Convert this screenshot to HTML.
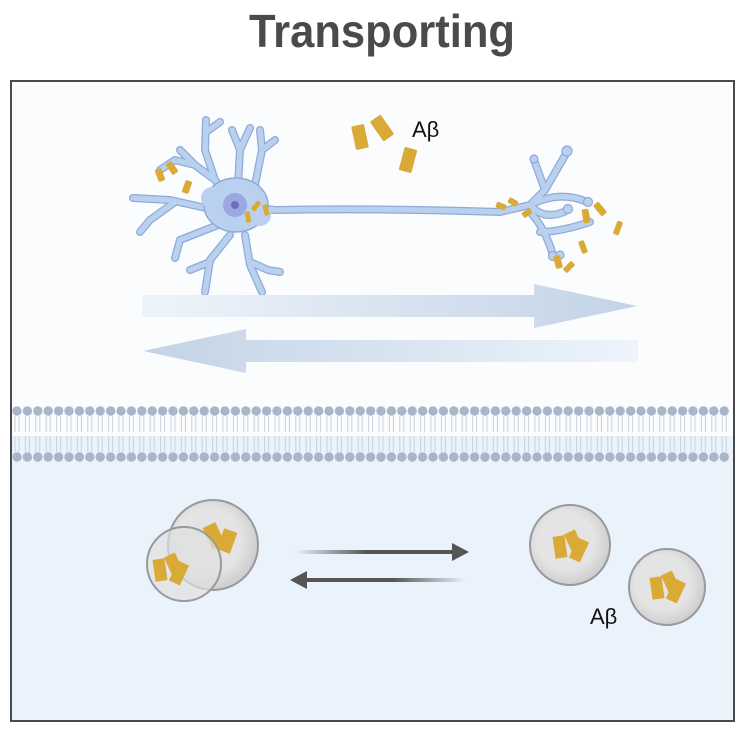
<!DOCTYPE html>
<html><head><meta charset="utf-8">
<style>
html,body{margin:0;padding:0;background:#fff;}
svg{display:block;}
</style></head>
<body>
<svg id="fig" width="749" height="734" viewBox="0 0 749 734" xmlns="http://www.w3.org/2000/svg">
<defs>
<linearGradient id="arrR" x1="0" x2="1" y1="0" y2="0">
<stop offset="0" stop-color="#eef4fb"/><stop offset="1" stop-color="#c3d3e6"/></linearGradient>
<linearGradient id="arrL" x1="0" x2="1" y1="0" y2="0">
<stop offset="0" stop-color="#c3d3e6"/><stop offset="1" stop-color="#eef4fb"/></linearGradient>
<linearGradient id="gR" x1="0" x2="1" y1="0" y2="0"><stop offset="0" stop-color="#555" stop-opacity="0"/><stop offset="0.45" stop-color="#555"/><stop offset="1" stop-color="#555"/></linearGradient>
<linearGradient id="gL" x1="0" x2="1" y1="0" y2="0"><stop offset="0" stop-color="#555"/><stop offset="0.55" stop-color="#555"/><stop offset="1" stop-color="#555" stop-opacity="0"/></linearGradient>
<radialGradient id="ves" cx="0.45" cy="0.45" r="0.6"><stop offset="0.6" stop-color="#e4e4e4"/><stop offset="1" stop-color="#c8c8c8"/></radialGradient>
</defs>
<text x="382" y="47" text-anchor="middle" font-family="Liberation Sans, sans-serif" font-weight="bold" font-size="46" fill="#4a4a4a" textLength="266" lengthAdjust="spacingAndGlyphs">Transporting</text>

<rect x="11" y="81" width="723" height="380" fill="#fbfcfe"/>
<rect x="11" y="436" width="723" height="285" fill="#eaf2fb"/>
<g id="membrane"></g>
<rect x="11" y="81" width="723" height="640" fill="none" stroke="#4a4a4a" stroke-width="2"/>

<!-- neuron -->
<g stroke-linecap="round" stroke-linejoin="round" fill="none">
<g stroke="#8faad8" stroke-width="8">
<path id="dend" d="M235 205 L215 180 L195 165 L175 160 L160 170 M195 165 L180 150 M215 180 L205 150 L206 120 M206 132 L220 122 M238 185 L240 150 L250 128 M240 150 L232 130 M255 185 L262 150 L260 130 M262 150 L275 140 M215 210 L170 200 L133 198 M175 202 L150 220 L140 232 M218 225 L180 240 L175 258 M230 235 L210 260 L205 292 M210 262 L190 270 M245 235 L250 265 L262 292 M250 262 L268 270 L280 272 M235 205 L275 210 Q380 208 500 212 L530 205 L545 190 L567 152 M545 190 L534 160 M530 205 Q560 190 587 202 M530 205 Q545 222 568 210 M530 212 Q545 228 553 255 M540 232 Q560 232 590 222"/>
</g>
<use href="#dend" stroke="#b9d1ee" stroke-width="5.5"/>
<ellipse cx="236" cy="205" rx="32" ry="27" fill="#b9d1ee" stroke="#8faad8" stroke-width="1.5"/>
<path d="M212 198 L260 215" stroke="#b9d1ee" stroke-width="22" fill="none"/>
<circle cx="235" cy="205" r="12" fill="#9da8e0"/>
<circle cx="235" cy="205" r="4" fill="#6f6cc3"/>
<g fill="#b9d1ee" stroke="#8faad8" stroke-width="1.2">
<circle cx="567" cy="151" r="5"/><circle cx="534" cy="159" r="4"/><circle cx="588" cy="202" r="4.5"/><circle cx="568" cy="209" r="4.5"/><circle cx="553" cy="256" r="4.5"/><circle cx="560" cy="255" r="4"/>
</g>
</g>

<!-- arrows -->
<polygon points="142,295 534,295 534,284 637,306 534,328 534,317 142,317" fill="url(#arrR)"/>
<polygon points="638,340 246,340 246,329 143,351 246,373 246,362 638,362" fill="url(#arrL)"/>

<g id="amyloids"></g>
<text x="412" y="137" font-family="Liberation Sans, sans-serif" font-size="22" fill="#111">Aβ</text>

<!-- vesicles -->
<g id="vesicles">
<circle cx="213" cy="545" r="45" fill="url(#ves)" stroke="#999" stroke-width="2"/>
<g fill="#d9aa35"><rect x="207" y="524" width="14" height="24" transform="rotate(-25 214 536)"/><rect x="220" y="530" width="14" height="22" transform="rotate(20 227 541)"/></g>
<circle cx="184" cy="564" r="37" fill="#e0e0e0" fill-opacity="0.7" stroke="#999" stroke-width="2"/>
<circle cx="570" cy="545" r="40" fill="url(#ves)" stroke="#999" stroke-width="2"/>
<circle cx="667" cy="587" r="38" fill="url(#ves)" stroke="#999" stroke-width="2"/>
</g>
<g id="vamy" fill="#d9aa35"></g>

<rect x="295" y="550" width="160" height="4" fill="url(#gR)"/>
<polygon points="452,543 469,552 452,561" fill="#555"/>
<rect x="305" y="578" width="160" height="4" fill="url(#gL)"/>
<polygon points="307,571 290,580 307,589" fill="#555"/>
<text x="590" y="624" font-family="Liberation Sans, sans-serif" font-size="22" fill="#111">Aβ</text>
</svg>
<script>
var NS='http://www.w3.org/2000/svg';
var mem=document.getElementById('membrane');
for(var x=17;x<734;x+=10.4){
  [411,457].forEach(function(y){
    var c=document.createElementNS(NS,'circle');
    c.setAttribute('cx',x);c.setAttribute('cy',y);c.setAttribute('r',4.7);c.setAttribute('fill','#a9b5c9');
    
    
    mem.appendChild(c);
  });
  var p=document.createElementNS(NS,'path');
  p.setAttribute('d','M'+(x-2)+' 416 L'+(x-2)+' 432 M'+(x+2)+' 416 L'+(x+2)+' 432 M'+(x-2)+' 436 L'+(x-2)+' 452 M'+(x+2)+' 436 L'+(x+2)+' 452');
  p.setAttribute('stroke','#c9d1de');p.setAttribute('stroke-width','1');
  
  
  mem.appendChild(p);
}
var amy=[[360,137,13,24,-12],[382,128,13,24,-35],[408,160,13,24,15],[160,175,7,13,-20],[172,168,7,13,-35],[187,187,7,13,20],[256,206,5,11,40],[266,210,5,11,-15],[248,217,5,11,-10],[501,206,6,10,-70],[513,202,6,10,-60],[527,213,6,10,55],[586,216,7,14,-10],[600,209,7,14,-40],[618,228,6,14,20],[583,247,6,13,-20],[558,262,7,13,-15],[569,267,6,12,45]];
var g=document.getElementById('amyloids');
amy.forEach(function(a){
  var r=document.createElementNS(NS,'rect');
  r.setAttribute('x',a[0]-a[2]/2);r.setAttribute('y',a[1]-a[3]/2);r.setAttribute('width',a[2]);r.setAttribute('height',a[3]);
  r.setAttribute('rx',1.5);r.setAttribute('fill','#d9aa35');
  r.setAttribute('transform','rotate('+a[4]+' '+a[0]+' '+a[1]+')');
  
  
  g.appendChild(r);
});
var vam=[[168,567],[568,544],[665,585]];
var vg=document.getElementById('vamy');
vam.forEach(function(c){
  [[-8,3,-8],[6,-2,-25],[11,6,25]].forEach(function(o){
    var r=document.createElementNS(NS,'rect');
    var cx=c[0]+o[0],cy=c[1]+o[1];
    r.setAttribute('x',cx-6);r.setAttribute('y',cy-11);r.setAttribute('width',12);r.setAttribute('height',22);
    r.setAttribute('transform','rotate('+o[2]+' '+cx+' '+cy+')');
    
    
    vg.appendChild(r);
  });
});
</script>
</body></html>
